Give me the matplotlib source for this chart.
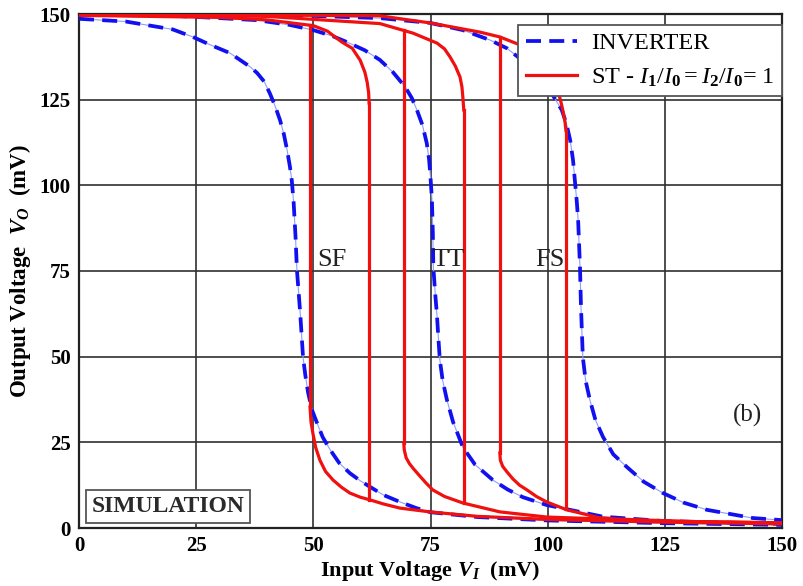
import numpy as np
import matplotlib
matplotlib.use("Agg")
import matplotlib.pyplot as plt
from matplotlib.lines import Line2D

plt.rcParams["font.family"] = ["Liberation Serif", "DejaVu Serif"]
plt.rcParams["mathtext.fontset"] = "custom"
plt.rcParams["mathtext.rm"] = "Liberation Serif"
plt.rcParams["mathtext.it"] = "Liberation Serif:italic"
plt.rcParams["mathtext.bf"] = "Liberation Serif:bold"
plt.rcParams["mathtext.bfit"] = "Liberation Serif:italic:bold"

# ---- Inverter transfer curves (input mV -> output mV) ----
inv_sf_x = [0, 10, 20, 24.3, 28, 32.2, 35, 36.5, 38, 39.5, 40.7, 41.8, 42.9, 43.7, 44.4, 45.0, 45.4,
            45.8, 46.2, 46.5, 47.2, 47.8, 48.3, 48.9, 49.7, 50.8, 52.0, 53.6, 55.5, 57.8, 60, 62.1,
            65, 68.5, 72, 75, 85, 100, 125, 150]
inv_sf_y = [148.6, 147.8, 145.5, 143.3, 141.0, 138.6, 136.0, 134.6, 132.8, 130.3, 126.9, 123.3, 119.0,
            115.0, 110.3, 105.5, 101.5, 95.0, 85.0, 75.3, 62.7, 49.9, 44.5, 39.4, 34.5, 30.6, 26.5,
            22.8, 19.0, 16.0, 13.8, 12.0, 9.6, 7.6, 5.8, 4.6, 3.2, 2.2, 1.4, 0.9]

inv_tt_x = [0, 20, 30, 38, 45, 50, 54, 57.2, 61, 64.2, 67, 69.6, 71, 72.1, 73.3, 74.2, 74.7, 75.0,
            75.3, 75.5, 75.6, 76.0, 76.4, 76.7, 77.0, 77.6, 78.5, 79.8, 81.9, 84.5, 88.3, 91.5, 94.7,
            99.8, 103, 111.8, 125, 150]
inv_tt_y = [149.8, 149.5, 148.8, 148.2, 146.8, 145.3, 143.6, 141.8, 139.4, 136.6, 133.0, 128.7, 125.5,
            122.0, 117.5, 112.3, 107.5, 102.4, 96.0, 86.0, 76.2, 68.5, 61.6, 55.0, 49.0, 43.0, 37.4,
            31.0, 23.6, 18.5, 14.0, 11.2, 9.0, 6.7, 5.8, 3.3, 2.0, 1.2]

inv_fs_x = [0, 40, 64.2, 74.9, 81.9, 87.7, 91.3, 95, 98.5, 101.1, 103, 104, 104.8, 105.4, 105.8,
            106.2, 106.5, 106.9, 107.1, 107.5, 108.1, 109, 110.2, 111.8, 114, 116.9, 120.5, 124.6,
            129, 134, 143.8, 150]
inv_fs_y = [150.0, 149.9, 148.8, 147.4, 145.3, 142.4, 140.0, 136.0, 131.0, 126.3, 122.0, 118.0, 113.2,
            107.5, 101.5, 95.5, 89.9, 76.0, 65.0, 49.9, 43.0, 37.4, 31.5, 26.6, 21.5, 17.8, 13.5,
            10.2, 7.4, 5.3, 2.9, 2.3]

# ---- Schmitt trigger: high branch (rising input) and low branch (falling input) ----
st_sf_hi_x = [0, 30, 40, 50, 53, 56.1, 58.3, 60.0, 61.0, 61.5, 61.8, 61.9]
st_sf_hi_y = [149.6, 149.0, 148.3, 146.6, 145.0, 141.8, 140.0, 136.5, 133.0, 130.0, 127.0, 124.0]
st_sf_lo_x = [49.3, 49.5, 49.9, 50.5, 51.4, 52.6, 54.2, 56.0, 57.8, 60.0, 62.1, 65, 68.5, 74.9,
              85, 100, 125, 150]
st_sf_lo_y = [35.3, 31.0, 27.7, 23.5, 19.8, 16.5, 14.0, 11.9, 10.2, 9.0, 8.2, 7.0, 5.8, 4.7,
              3.4, 2.5, 1.7, 1.2]

st_tt_hi_x = [0, 40, 55, 64.2, 71.3, 76.4, 78.0, 79.2, 80.3, 81.3, 81.7, 81.9, 82.1]
st_tt_hi_y = [150.0, 149.3, 148.0, 147.2, 144.4, 141.5, 139.8, 137.4, 134.8, 131.6, 128.8, 125.8, 122.0]
st_tt_lo_x = [69.3, 69.4, 69.8, 70.5, 71.3, 72.5, 74.0, 75.5, 78.0, 81.9, 89.8, 99.8, 125, 150]
st_tt_lo_y = [24.8, 22.8, 20.5, 18.8, 17.4, 15.5, 13.2, 11.1, 9.2, 7.3, 4.7, 3.2, 2.0, 1.5]

st_fs_hi_x = [0, 64, 74.9, 85.6, 89.8, 95, 99, 100.5, 101.5, 102.3, 102.8, 103.3, 103.7, 103.9]
st_fs_hi_y = [150.0, 149.5, 147.4, 144.7, 143.3, 140.5, 136.0, 133.0, 130.0, 127.0, 124.5, 121.5,
              118.5, 116.0]
st_fs_lo_x = [89.8, 89.9, 90.4, 91.3, 92.6, 94.0, 95.6, 97.6, 99.8, 104.1, 111, 115, 130, 150]
st_fs_lo_y = [21.9, 19.8, 18.0, 16.4, 14.3, 12.5, 11.1, 9.2, 7.6, 5.3, 3.0, 2.6, 1.9, 1.5]

corner_labels = ["SF", "TT", "FS"]
corner_label_x = [50.8, 75.5, 97.3]
ticks = [0, 25, 50, 75, 100, 125, 150]

BLUE = "#1010f0"
RED = "#f01010"

fig = plt.figure(figsize=(8.04, 5.86), dpi=100)
ax = fig.add_axes([79 / 804, 1 - 528 / 586, (782 - 79) / 804, (528 - 14) / 586])

ax.set_xlim(0, 150)
ax.set_ylim(0, 150)
ax.set_xticks(ticks)
ax.set_yticks(ticks)
ax.grid(True, color="#303030", linewidth=1.2)
ax.set_axisbelow(True)
for s in ax.spines.values():
    s.set_color("#222222")
    s.set_linewidth(1.6)
ax.tick_params(length=0, labelsize=15, pad=6)
for lab in ax.get_xticklabels() + ax.get_yticklabels():
    lab.set_fontweight("bold")

# inverter curves: thin light trace under a thick dashed line
for xs, ys in [(inv_sf_x, inv_sf_y), (inv_tt_x, inv_tt_y), (inv_fs_x, inv_fs_y)]:
    ax.plot(xs, ys, color="#8f9cff", lw=0.8, zorder=3)
    ax.plot(xs, ys, color=BLUE, lw=2.7, dashes=(4, 2.2), zorder=4)

# Schmitt trigger hysteresis loops
st_sets = [(st_sf_hi_x, st_sf_hi_y, st_sf_lo_x, st_sf_lo_y),
           (st_tt_hi_x, st_tt_hi_y, st_tt_lo_x, st_tt_lo_y),
           (st_fs_hi_x, st_fs_hi_y, st_fs_lo_x, st_fs_lo_y)]
for hx, hy, lx, ly in st_sets:
    ax.plot(hx, hy, color=RED, lw=2.3, zorder=5)
    ax.plot(lx, ly, color=RED, lw=2.3, zorder=5)
    v_up, v_dn = hx[-1], lx[0]
    ax.plot([v_up, v_up], [hy[-1], np.interp(v_up, lx, ly)], color=RED, lw=2.3, zorder=5)
    ax.plot([v_dn, v_dn], [ly[0], np.interp(v_dn, hx, hy)], color=RED, lw=2.3, zorder=5)

for name, x in zip(corner_labels, corner_label_x):
    ax.text(x, 76.5, name, fontsize=19, color="#222222", ha="left", va="baseline", zorder=6)

ax.text(142.7, 32.7, "(b)", fontsize=18, color="#222222", ha="center", va="center", zorder=6)

ax.text(19.0, 6.3, "SIMULATION", fontsize=17, fontweight="bold", color="#2a2a2a",
        ha="center", va="center", zorder=7,
        bbox=dict(boxstyle="square,pad=0.25", fc="white", ec="#555555", lw=1.3))

ax.set_xlabel(r"Input Voltage $\mathbfit{V}_{\mathbfit{I}}$  (mV)", fontsize=16,
              fontweight="bold", labelpad=2)
ax.set_ylabel(r"Output Voltage  $\mathbfit{V}_{\mathbfit{O}}$  (mV)", fontsize=16.5,
              fontweight="bold", labelpad=5)

handles = [Line2D([], [], color=BLUE, lw=2.7, dashes=(4, 2.2)),
           Line2D([], [], color=RED, lw=2.3)]
leg = ax.legend(handles,
                ["INVERTER",
                 r"ST - $I_{\mathbf{1}}/I_{\mathbf{0}} = I_{\mathbf{2}}/I_{\mathbf{0}}$= 1"],
                loc="upper right", bbox_to_anchor=(1.0, 1 - 11 / 514), borderaxespad=0,
                fontsize=17.5, frameon=True, fancybox=False, framealpha=1,
                edgecolor="#555555", handlelength=2.1, borderpad=0.3, labelspacing=0.5,
                handletextpad=0.6)
leg.get_frame().set_linewidth(1.3)
leg.set_zorder(10)

fig.savefig("out.png", dpi=100)
